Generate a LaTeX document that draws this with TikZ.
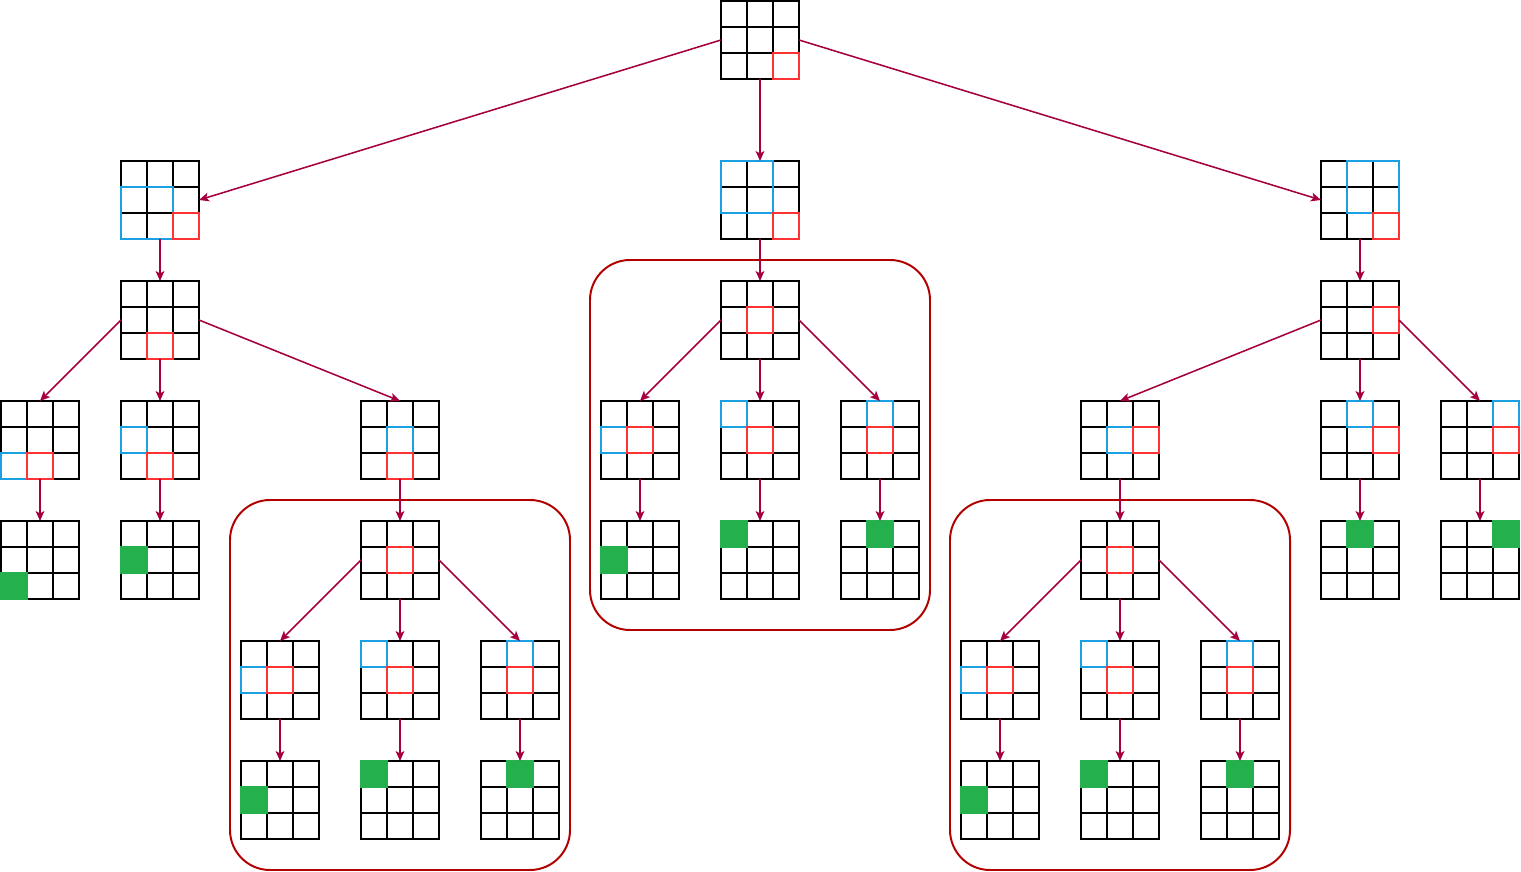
\documentclass[tikz,border=0pt]{standalone}
\usetikzlibrary{arrows.meta}

\definecolor{arrowred}{HTML}{A50040}
\definecolor{boxred}{HTML}{B20000}
\definecolor{markblue}{HTML}{1BA1E2}
\definecolor{markred}{HTML}{FF3333}
\definecolor{markgreen}{HTML}{23B04D}

% highlight helpers: node, column, row (0 = left / top)
\newcommand{\bluearea}[5]{\draw[bluemark] ([xshift=#2*0.65cm, yshift=-#3*0.65cm]#1.north west) rectangle ([xshift=#4*0.65cm+0.65cm, yshift=-#5*0.65cm-0.65cm]#1.north west);}
\newcommand{\redcell}[3]{\draw[redmark] ([xshift=#2*0.65cm, yshift=-#3*0.65cm]#1.north west) rectangle ++(0.65,-0.65);}
\newcommand{\greencell}[3]{\fill[markgreen] ([xshift=#2*0.65cm-0.7pt, yshift=-#3*0.65cm+0.7pt]#1.north west) rectangle ++(0.65cm+1.4pt,-0.65cm-1.4pt);}

\begin{document}
\begin{tikzpicture}[
    cellgrid/.style={draw=black, line width=1.4pt, minimum size=1.95cm, inner sep=0pt, outer sep=0pt,
      path picture={
        \foreach \k in {1,2} {
          \draw[line width=1.4pt] ([xshift=\k*0.65cm]path picture bounding box.north west) -- ([xshift=\k*0.65cm]path picture bounding box.south west);
          \draw[line width=1.4pt] ([yshift=-\k*0.65cm]path picture bounding box.north west) -- ([yshift=-\k*0.65cm]path picture bounding box.north east);
        }
      }},
    bluemark/.style={draw=markblue, line width=1.4pt},
    redmark/.style={draw=markred, line width=1.4pt},
    link/.style={draw=arrowred, line width=1.1pt, -{Stealth[length=0.25cm, width=0.22cm, inset=0.06cm]}},
    groupbox/.style={draw=boxred, line width=1.4pt, rounded corners=1cm}
  ]
  \useasboundingbox (0,0) rectangle (38.025,-21.8);

  % --- ROOT ---
  \node[cellgrid] (root) at (19,-1) {};
  \redcell{root}{2}{2}

  % --- LEVEL 1 ---
  \node[cellgrid] (la) at (4,-5) {};
  \node[cellgrid] (ma) at (19,-5) {};
  \node[cellgrid] (ra) at (34,-5) {};
  \bluearea{la}{0}{1}{1}{2} \redcell{la}{2}{2}
  \bluearea{ma}{0}{0}{1}{1} \redcell{ma}{2}{2}
  \bluearea{ra}{1}{0}{2}{1} \redcell{ra}{2}{2}

  % --- LEVEL 2 ---
  \node[cellgrid] (lb) at (4,-8) {};
  \node[cellgrid] (mb) at (19,-8) {};
  \node[cellgrid] (rb) at (34,-8) {};
  \redcell{lb}{1}{2}
  \redcell{mb}{1}{1}
  \redcell{rb}{2}{1}

  % --- LEVEL 3 ---
  \node[cellgrid] (lc1) at (1,-11) {};
  \node[cellgrid] (lc2) at (4,-11) {};
  \node[cellgrid] (lc3) at (10,-11) {};
  \bluearea{lc1}{0}{2}{0}{2} \redcell{lc1}{1}{2}
  \bluearea{lc2}{0}{1}{0}{1} \redcell{lc2}{1}{2}
  \bluearea{lc3}{1}{1}{1}{1} \redcell{lc3}{1}{2}

  \node[cellgrid] (mc1) at (16,-11) {};
  \node[cellgrid] (mc2) at (19,-11) {};
  \node[cellgrid] (mc3) at (22,-11) {};
  \bluearea{mc1}{0}{1}{0}{1} \redcell{mc1}{1}{1}
  \bluearea{mc2}{0}{0}{0}{0} \redcell{mc2}{1}{1}
  \bluearea{mc3}{1}{0}{1}{0} \redcell{mc3}{1}{1}

  \node[cellgrid] (rc1) at (28,-11) {};
  \node[cellgrid] (rc2) at (34,-11) {};
  \node[cellgrid] (rc3) at (37,-11) {};
  \bluearea{rc1}{1}{1}{1}{1} \redcell{rc1}{2}{1}
  \bluearea{rc2}{1}{0}{1}{0} \redcell{rc2}{2}{1}
  \bluearea{rc3}{2}{0}{2}{0} \redcell{rc3}{2}{1}

  % --- LEVEL 4 ---
  \node[cellgrid] (ld1) at (1,-14) {};
  \node[cellgrid] (ld2) at (4,-14) {};
  \node[cellgrid] (ld3) at (10,-14) {};
  \greencell{ld1}{0}{2}
  \greencell{ld2}{0}{1}
  \redcell{ld3}{1}{1}

  \node[cellgrid] (md1) at (16,-14) {};
  \node[cellgrid] (md2) at (19,-14) {};
  \node[cellgrid] (md3) at (22,-14) {};
  \greencell{md1}{0}{1}
  \greencell{md2}{0}{0}
  \greencell{md3}{1}{0}

  \node[cellgrid] (rd1) at (28,-14) {};
  \node[cellgrid] (rd2) at (34,-14) {};
  \node[cellgrid] (rd3) at (37,-14) {};
  \redcell{rd1}{1}{1}
  \greencell{rd2}{1}{0}
  \greencell{rd3}{2}{0}

  % --- LEVEL 5 ---
  \node[cellgrid] (le1) at (7,-17) {};
  \node[cellgrid] (le2) at (10,-17) {};
  \node[cellgrid] (le3) at (13,-17) {};
  \bluearea{le1}{0}{1}{0}{1} \redcell{le1}{1}{1}
  \bluearea{le2}{0}{0}{0}{0} \redcell{le2}{1}{1}
  \bluearea{le3}{1}{0}{1}{0} \redcell{le3}{1}{1}

  \node[cellgrid] (re1) at (25,-17) {};
  \node[cellgrid] (re2) at (28,-17) {};
  \node[cellgrid] (re3) at (31,-17) {};
  \bluearea{re1}{0}{1}{0}{1} \redcell{re1}{1}{1}
  \bluearea{re2}{0}{0}{0}{0} \redcell{re2}{1}{1}
  \bluearea{re3}{1}{0}{1}{0} \redcell{re3}{1}{1}

  % --- LEVEL 6 ---
  \node[cellgrid] (lf1) at (7,-20) {};
  \node[cellgrid] (lf2) at (10,-20) {};
  \node[cellgrid] (lf3) at (13,-20) {};
  \greencell{lf1}{0}{1}
  \greencell{lf2}{0}{0}
  \greencell{lf3}{1}{0}

  \node[cellgrid] (rf1) at (25,-20) {};
  \node[cellgrid] (rf2) at (28,-20) {};
  \node[cellgrid] (rf3) at (31,-20) {};
  \greencell{rf1}{0}{1}
  \greencell{rf2}{0}{0}
  \greencell{rf3}{1}{0}

  % --- GROUPS ---
  \draw[groupbox] (14.75,-6.5) rectangle (23.25,-15.75);
  \draw[groupbox] (5.75,-12.5) rectangle (14.25,-21.75);
  \draw[groupbox] (23.75,-12.5) rectangle (32.25,-21.75);

  % --- ARROWS ---
  \draw[link] (root.west) -- (la.east);
  \draw[link] (root.south) -- (ma.north);
  \draw[link] (root.east) -- (ra.west);
  \draw[link] (la) -- (lb);
  \draw[link] (ma) -- (mb);
  \draw[link] (ra) -- (rb);

  \draw[link] (lb.west) -- (lc1.north);
  \draw[link] (lb.south) -- (lc2.north);
  \draw[link] (lb.east) -- (lc3.north);
  \draw[link] (mb.west) -- (mc1.north);
  \draw[link] (mb.south) -- (mc2.north);
  \draw[link] (mb.east) -- (mc3.north);
  \draw[link] (rb.west) -- (rc1.north);
  \draw[link] (rb.south) -- (rc2.north);
  \draw[link] (rb.east) -- (rc3.north);

  \draw[link] (lc1) -- (ld1);
  \draw[link] (lc2) -- (ld2);
  \draw[link] (lc3) -- (ld3);
  \draw[link] (mc1) -- (md1);
  \draw[link] (mc2) -- (md2);
  \draw[link] (mc3) -- (md3);
  \draw[link] (rc1) -- (rd1);
  \draw[link] (rc2) -- (rd2);
  \draw[link] (rc3) -- (rd3);

  \draw[link] (ld3.west) -- (le1.north);
  \draw[link] (ld3.south) -- (le2.north);
  \draw[link] (ld3.east) -- (le3.north);
  \draw[link] (rd1.west) -- (re1.north);
  \draw[link] (rd1.south) -- (re2.north);
  \draw[link] (rd1.east) -- (re3.north);

  \draw[link] (le1) -- (lf1);
  \draw[link] (le2) -- (lf2);
  \draw[link] (le3) -- (lf3);
  \draw[link] (re1) -- (rf1);
  \draw[link] (re2) -- (rf2);
  \draw[link] (re3) -- (rf3);
\end{tikzpicture}
\end{document}
